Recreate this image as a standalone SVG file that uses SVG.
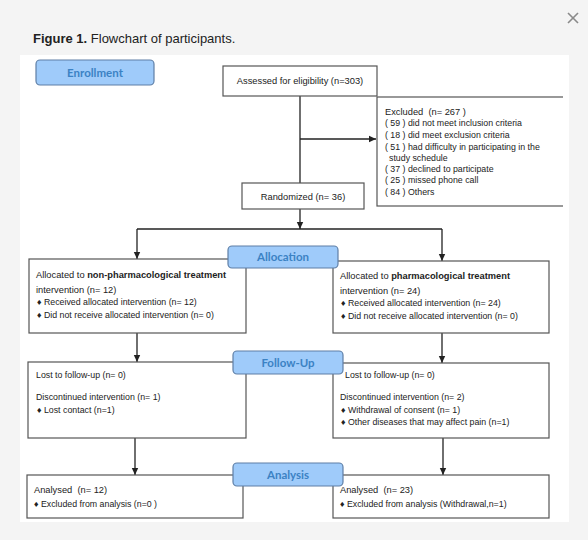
<svg xmlns="http://www.w3.org/2000/svg" width="588" height="540" viewBox="0 0 588 540">
<style>
text{white-space:pre}
.bx{fill:#fff;stroke:#555;stroke-width:1.2}
.lb{fill:#9fcbfa;stroke:#5f7fa6;stroke-width:1.2}
.lt{font-family:Lato,"Open Sans",sans-serif;font-weight:bold;font-size:11.5px;fill:#3b82c4;text-anchor:middle}
.t{font-family:"Liberation Sans",Arial,sans-serif;font-size:9.3px;fill:#222}
.s{font-family:"Liberation Sans",Arial,sans-serif;font-size:8.8px;fill:#222}
.c{stroke:#222;stroke-width:1.3;fill:none}
</style>
<defs>
<marker id="ah" markerWidth="8" markerHeight="8" refX="7" refY="4" orient="auto" markerUnits="userSpaceOnUse">
<path d="M0,0.8 L7,4 L0,7.2 z" fill="#222"/>
</marker>
<clipPath id="pc"><rect x="20" y="55" width="543" height="467"/></clipPath>
</defs>
<rect width="588" height="540" fill="#f4f4f4"/>
<g stroke="#8a8a8a" stroke-width="1.6"><line x1="568" y1="13" x2="578" y2="23"/><line x1="578" y1="13" x2="568" y2="23"/></g>
<text x="33" y="43" font-family="'Liberation Sans',Arial,sans-serif" font-size="13" fill="#222"><tspan font-weight="bold">Figure 1.</tspan> Flowchart of participants.</text>
<rect x="20" y="55" width="549" height="467" fill="#fff"/>

<g id="connectors">
<line class="c" x1="300" y1="96" x2="300" y2="183"/>
<line class="c" x1="300" y1="139" x2="376" y2="139" marker-end="url(#ah)"/>
<line class="c" x1="300" y1="209" x2="300" y2="229" marker-end="url(#ah)"/>
<line class="c" x1="137" y1="229" x2="442" y2="229"/>
<line class="c" x1="137" y1="229" x2="137" y2="259" marker-end="url(#ah)"/>
<line class="c" x1="442" y1="229" x2="442" y2="261" marker-end="url(#ah)"/>
<line class="c" x1="137" y1="333" x2="137" y2="362" marker-end="url(#ah)"/>
<line class="c" x1="442" y1="333" x2="442" y2="363" marker-end="url(#ah)"/>
<line class="c" x1="135" y1="438" x2="135" y2="475" marker-end="url(#ah)"/>
<line class="c" x1="443" y1="438" x2="443" y2="475" marker-end="url(#ah)"/>
</g>

<g id="enrollment"><rect class="lb" x="36" y="60" width="118" height="25" rx="4"/><text class="lt" x="95" y="76.5">Enrollment</text></g>

<g id="assessed"><rect class="bx" x="223" y="66" width="154" height="30"/><text class="t" x="300" y="84" text-anchor="middle">Assessed for eligibility (n=303)</text></g>

<g id="excluded" clip-path="url(#pc)"><rect class="bx" x="377" y="97" width="200" height="109"/>
<text class="t" x="385" y="115">Excluded  (n= 267 )</text>
<text class="s" x="385" y="126">( 59 ) did not meet inclusion criteria</text>
<text class="s" x="385" y="137.5">( 18 ) did meet exclusion criteria</text>
<text class="s" x="385" y="149.5">( 51 ) had difficulty in participating in the</text>
<text class="s" x="389" y="160.5">study schedule</text>
<text class="s" x="385" y="171.5">( 37 ) declined to participate</text>
<text class="s" x="385" y="183">( 25 ) missed phone call</text>
<text class="s" x="385" y="194.5">( 84 ) Others</text>
</g>

<g id="randomized"><rect class="bx" x="242" y="183" width="122" height="26"/><text class="t" x="303" y="200" text-anchor="middle">Randomized (n= 36)</text></g>

<g id="alloc-left"><rect class="bx" x="29" y="259" width="217" height="74"/>
<text class="t" x="36" y="278">Allocated to <tspan font-weight="bold">non-pharmacological treatment</tspan></text>
<text class="t" x="36" y="293">intervention (n= 12)</text>
<text class="s" x="37" y="305">♦ Received allocated intervention (n= 12)</text>
<text class="s" x="37" y="318">♦ Did not receive allocated intervention (n= 0)</text>
</g>

<g id="alloc-right"><rect class="bx" x="333" y="261" width="216" height="72"/>
<text class="t" x="340" y="279">Allocated to <tspan font-weight="bold">pharmacological treatment</tspan></text>
<text class="t" x="340" y="294">intervention (n= 24)</text>
<text class="s" x="341" y="306">♦ Received allocated intervention (n= 24)</text>
<text class="s" x="341" y="319">♦ Did not receive allocated intervention (n= 0)</text>
</g>

<g id="allocation"><rect class="lb" x="228" y="246" width="110" height="22" rx="4"/><text class="lt" x="283" y="261">Allocation</text></g>

<g id="follow-left"><rect class="bx" x="28" y="362" width="218" height="76"/>
<text class="s" x="36" y="378">Lost to follow-up (n= 0)</text>
<text class="s" x="36" y="400">Discontinued intervention (n= 1)</text>
<text class="s" x="37" y="412.5">♦ Lost contact (n=1)</text>
</g>

<g id="follow-right"><rect class="bx" x="333" y="363" width="216" height="75"/>
<text class="s" x="345" y="378">Lost to follow-up (n= 0)</text>
<text class="s" x="340" y="400">Discontinued intervention (n= 2)</text>
<text class="s" x="341" y="412.5">♦ Withdrawal of consent (n= 1)</text>
<text class="s" x="341" y="424.5">♦ Other diseases that may affect pain (n=1)</text>
</g>

<g id="followup"><rect class="lb" x="233" y="351" width="110" height="23" rx="4"/><text class="lt" x="288" y="366.5">Follow-Up</text></g>

<g id="analysis-left"><rect class="bx" x="27" y="475" width="216" height="43"/>
<text class="t" x="34" y="493">Analysed  (n= 12)</text>
<text class="s" x="34" y="506.5">♦ Excluded from analysis (n=0 )</text>
</g>

<g id="analysis-right"><rect class="bx" x="333" y="475" width="216" height="43"/>
<text class="t" x="340" y="493">Analysed  (n= 23)</text>
<text class="s" x="340" y="506.5">♦ Excluded from analysis (Withdrawal,n=1)</text>
</g>

<g id="analysis"><rect class="lb" x="233" y="463" width="110" height="23" rx="4"/><text class="lt" x="288" y="478.5">Analysis</text></g>
</svg>
